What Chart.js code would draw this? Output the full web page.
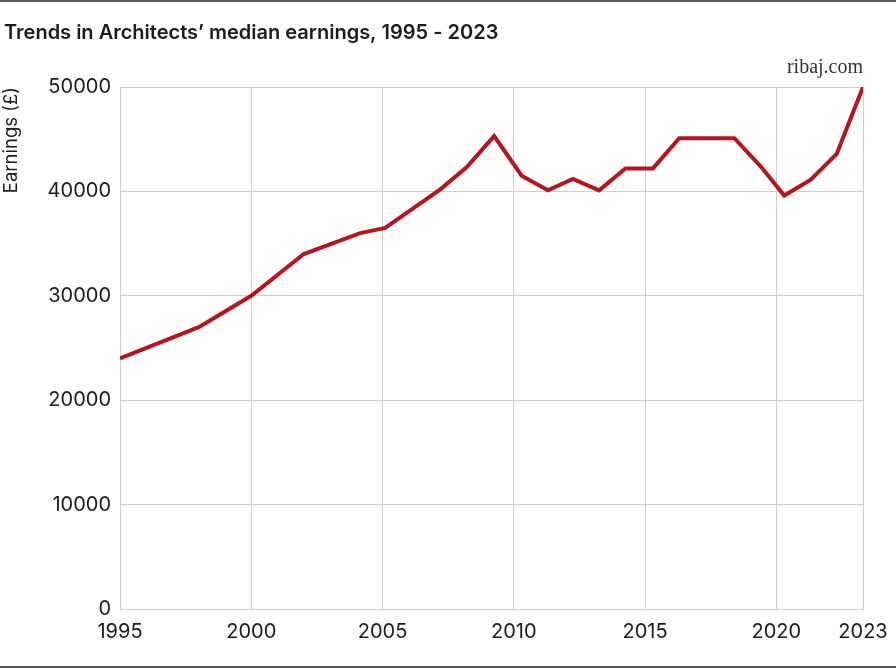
<!DOCTYPE html>
<html>
<head>
<meta charset="utf-8">
<script src="https://cdn.jsdelivr.net/npm/chart.js@4"></script>
<style>
  html, body { margin: 0; padding: 0; background: #fff; }
  #wrap { width: 896px; height: 668px; position: relative; }
</style>
</head>
<body>
<div id="wrap"><canvas id="c" width="896" height="668"></canvas></div>
<script>
// Data
const years = [1995, 1998, 2000, 2002, 2004.15, 2005.1, 2007.2, 2008.2, 2009.25, 2010.3, 2011.3, 2012.25, 2013.25, 2014.25, 2015.3, 2016.3, 2018.4, 2019.4, 2020.3, 2021.3, 2022.3, 2023.3];
const earnings = [24000, 27000, 30000, 34000, 36000, 36500, 40200, 42300, 45300, 41500, 40100, 41200, 40100, 42200, 42200, 45100, 45100, 42400, 39600, 41100, 43600, 50000];
const xTickValues = [1995, 2000, 2005, 2010, 2015, 2020, 2023.3];
const xTickLabels = ['1995', '2000', '2005', '2010', '2015', '2020', '2023'];
const yTickValues = [0, 10000, 20000, 30000, 40000, 50000];

const titleText = 'Trends in Architects\u2019 median earnings, 1995 - 2023';
const sourceText = 'ribaj.com';
const yAxisTitle = 'Earnings (\u00A3)';

const TICK_FONT = { family: 'Inter, "Liberation Sans", sans-serif', size: 20, weight: '400' };

const decor = {
  id: 'decor',
  beforeDraw(chart) {
    const ctx = chart.ctx;
    ctx.save();
    ctx.fillStyle = '#fff';
    ctx.fillRect(0, 0, chart.width, chart.height);
    ctx.restore();
  },
  afterDraw(chart) {
    const ctx = chart.ctx;
    const a = chart.chartArea;
    ctx.save();
    // top and bottom rules
    ctx.fillStyle = '#5a5a5a';
    ctx.fillRect(0, 0, chart.width, 2);
    ctx.fillRect(0, chart.height - 2, chart.width, 2);
    // title
    ctx.fillStyle = '#1c1c1c';
    ctx.font = '600 20px Inter, "Liberation Sans", sans-serif';
    ctx.textAlign = 'left';
    ctx.textBaseline = 'alphabetic';
    ctx.fillText(titleText, 4, 39);
    // source
    ctx.fillStyle = '#333';
    ctx.font = '20px "Liberation Serif", "DejaVu Serif", serif';
    ctx.textAlign = 'right';
    ctx.fillText(sourceText, a.right, 73);
    ctx.restore();
  }
};

new Chart(document.getElementById('c'), {
  type: 'line',
  data: {
    datasets: [{
      data: years.map((y, i) => ({ x: y, y: earnings[i] })),
      borderColor: '#B8141E',
      borderWidth: 4,
      pointRadius: 0,
      tension: 0,
      borderJoinStyle: 'miter',
      borderCapStyle: 'butt',
      fill: false
    }]
  },
  options: {
    responsive: false,
    animation: false,
    devicePixelRatio: 1,
    layout: { padding: { top: 87, right: 33, bottom: 0, left: 0 } },
    plugins: { legend: { display: false }, tooltip: { enabled: false }, title: { display: false } },
    scales: {
      x: {
        type: 'linear',
        min: 1995,
        max: 2023.3,
        afterBuildTicks(scale) { scale.ticks = xTickValues.map(v => ({ value: v })); },
        afterFit(scale) { scale.height = 59; scale.paddingLeft = 0; scale.paddingRight = 0; },
        grid: { color: '#cfcfcf', lineWidth: 1, drawTicks: false },
        border: { color: '#cfcfcf', width: 1 },
        ticks: {
          autoSkip: false,
          maxRotation: 0,
          padding: 11,
          color: '#1c1c1c',
          font: TICK_FONT,
          callback: (v, i) => xTickLabels[i]
        }
      },
      y: {
        min: 0,
        max: 50000,
        afterBuildTicks(scale) { scale.ticks = yTickValues.map(v => ({ value: v })); },
        afterFit(scale) { scale.width = 120; scale.paddingTop = 0; scale.paddingBottom = 0; },
        grid: { color: '#cfcfcf', lineWidth: 1, drawTicks: false },
        border: { color: '#cfcfcf', width: 1 },
        title: {
          display: true,
          text: yAxisTitle,
          align: 'end',
          color: '#1c1c1c',
          font: { family: 'Inter, "Liberation Sans", sans-serif', size: 18.5 },
          padding: { top: 0, bottom: 0 }
        },
        ticks: {
          padding: 9,
          color: '#1c1c1c',
          font: TICK_FONT,
          callback: v => String(v)
        }
      }
    }
  },
  plugins: [decor]
});
</script>
</body>
</html>
